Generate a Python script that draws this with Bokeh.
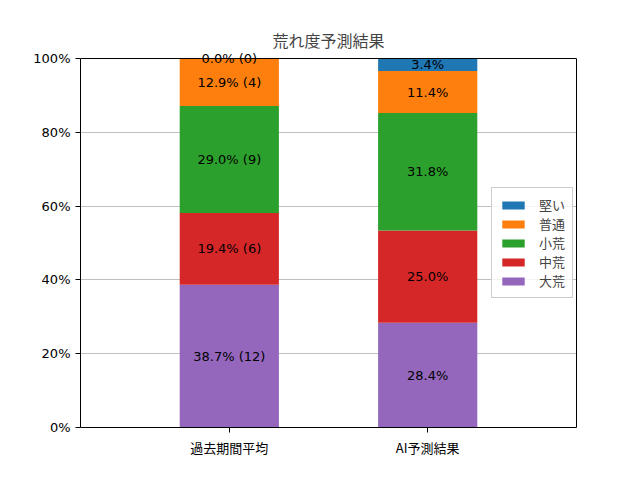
from bokeh.plotting import figure
from bokeh.models import (ColumnDataSource, FixedTicker, PrintfTickFormatter,
                          Legend, LegendItem, Range1d, LabelSet, Title, Span,
                          LinearAxis)
from bokeh.core.properties import value
from bokeh.embed import file_html
from bokeh.resources import INLINE

categories = ["過去期間平均", "AI予測結果"]
levels = ["大荒", "中荒", "小荒", "普通", "堅い"]  # bottom to top
past_pct = [38.7, 19.4, 29.0, 12.9, 0.0]
past_cnt = [12, 6, 9, 4, 0]
ai_pct = [28.4, 25.0, 31.8, 11.4, 3.4]
colors = ["#9467bd", "#d62728", "#2ca02c", "#ff7f0e", "#1f77b4"]
y_ticks = [0, 20, 40, 60, 80, 100]
title = "荒れ度予測結果"

JP = "'Noto Sans CJK JP', 'DejaVu Sans', sans-serif"
NUM = "'DejaVu Sans', 'Noto Sans CJK JP', sans-serif"

# frame extends 8px above the 100% line so the top label is not clipped
ymax = 100 + 8 * 100 / 369
p = figure(width=632, height=472, output_backend="svg", toolbar_location=None,
           x_range=Range1d(-0.75, 1.75), y_range=Range1d(0, ymax),
           min_border_left=80, min_border_right=56, min_border_top=50,
           min_border_bottom=45, title=None)

xs = [0, 1]
data = {"x": xs}
for i, lv in enumerate(levels):
    data[lv] = [past_pct[i], ai_pct[i]]
src = ColumnDataSource(data)
renderers = p.vbar_stack(levels, x="x", width=0.5, color=colors, source=src,
                         line_color=None)

# labels
lx, ly, lt = [], [], []
for j, (pcts, cnts) in enumerate([(past_pct, past_cnt), (ai_pct, None)]):
    base = 0.0
    for i, v in enumerate(pcts):
        lx.append(xs[j])
        ly.append(base + v / 2)
        if cnts is not None:
            lt.append(f"{v:.1f}% ({cnts[i]})")
        else:
            lt.append(f"{v:.1f}%")
        base += v
lsrc = ColumnDataSource(dict(x=lx, y=ly, t=lt))
labels = LabelSet(x="x", y="y", text="t", source=lsrc, text_align="center",
                  text_baseline="middle", text_font=value(NUM),
                  text_font_size="13px", text_color="black", level="overlay")
p.add_layout(labels)

# title
p.add_layout(Title(text=title, align="center", text_font=JP,
                   text_font_size="16px", text_font_style="normal",
                   offset=0, standoff=-2), "above")

# legend (top-down order)
items = [LegendItem(label=levels[i], renderers=[renderers[i]])
         for i in reversed(range(len(levels)))]
leg = Legend(items=items, location=(411, 129), label_text_font=JP,
             label_text_font_size="13px", glyph_width=28, glyph_height=10,
             label_standoff=12, spacing=0, padding=7, margin=0,
             border_line_color="#cccccc", border_line_alpha=1,
             background_fill_alpha=0.8, label_height=18)
p.add_layout(leg, "center")

# axes
p.xaxis.ticker = FixedTicker(ticks=xs)
p.xaxis.major_label_overrides = {0: categories[0], 1: categories[1]}
p.xaxis.major_label_text_font = JP
p.yaxis.ticker = FixedTicker(ticks=y_ticks)
p.yaxis.formatter = PrintfTickFormatter(format="%d%%")
p.yaxis.major_label_text_font = NUM
p.yaxis.bounds = (0, 100)
for ax in (p.xaxis, p.yaxis):
    ax.major_label_text_font_size = "13px"
    ax.major_label_text_color = "black"
    ax.major_tick_out = 5
    ax.major_tick_in = 0
    ax.minor_tick_line_color = None
    ax.axis_line_color = "black"
    ax.major_tick_line_color = "black"

# right frame edge and top frame edge at 100%
right_ax = LinearAxis(bounds=(0, 100), major_tick_line_color=None,
                      minor_tick_line_color=None, major_label_text_font_size="0px",
                      axis_line_color="black", ticker=FixedTicker(ticks=[]))
p.add_layout(right_ax, "right")
p.add_layout(Span(location=100, dimension="width", line_color="black",
                  line_width=1))

p.xgrid.grid_line_color = None
p.ygrid.grid_line_color = "#b0b0b0"
p.ygrid.grid_line_width = 0.8
p.outline_line_color = None

open("out.html", "w").write(file_html(p, INLINE))
